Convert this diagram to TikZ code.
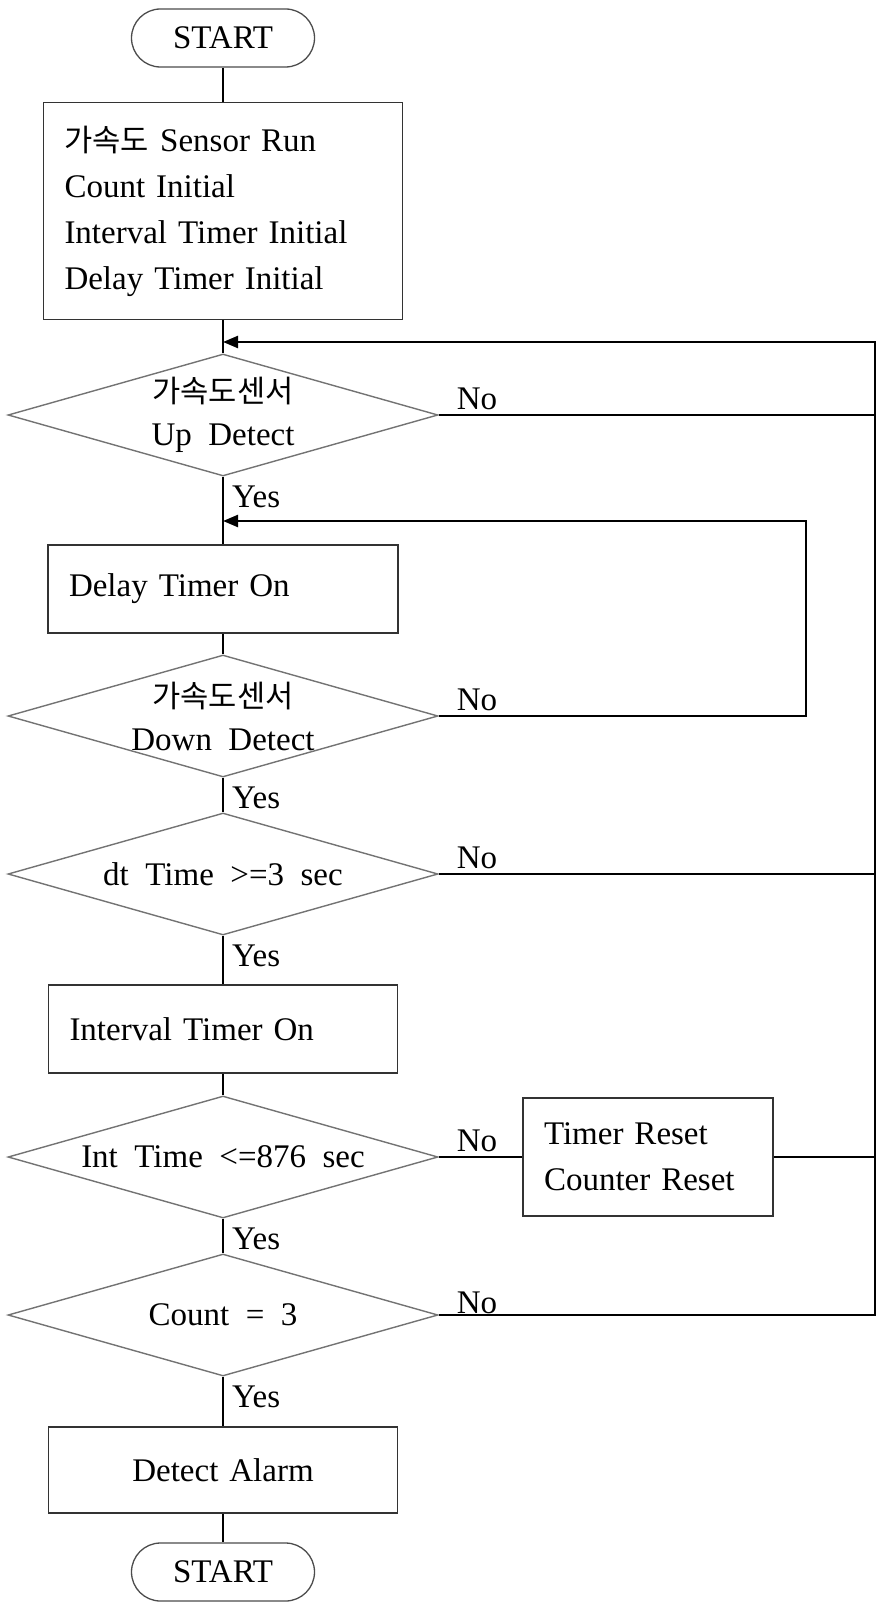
\documentclass[tikz,border=0pt]{standalone}
\usepackage{fontspec}
\setmainfont{Liberation Serif}[WordSpace=2.0]
\newfontfamily\kor{Noto Sans CJK KR}[Scale=0.93]
\usetikzlibrary{shapes.geometric,arrows.meta}

\begin{document}
\begin{tikzpicture}[
    x=1pt, y=-1pt,
    every node/.style={font=\fontsize{33}{46}\selectfont},
    term/.style={draw=black!70, line width=1.3pt, rectangle, rounded corners=29pt,
        minimum width=183pt, minimum height=58pt},
    proc/.style={draw=black!80, line width=1.5pt, rectangle, inner xsep=21pt, align=left},
    decision/.style={draw=black!55, line width=1.4pt, diamond, aspect=3.5, inner sep=0pt,
        minimum width=430pt, minimum height=122pt, align=center,
        font=\fontsize{33}{43}\selectfont},
    flow/.style={line width=2.4pt},
    back/.style={line width=2.4pt, -{Triangle[length=15pt,width=12pt]}},
    yes/.style={anchor=base west, inner sep=0pt, xshift=8pt, yshift=-31pt},
    no/.style={anchor=base west, inner sep=0pt, xshift=17pt, yshift=6pt}
]
\useasboundingbox (0,0) rectangle (878,1602);

% main column
\node[term] (start) at (223,38) {START};
\node[proc, text width=317pt, minimum height=217pt] (init) at (223,211)
    {{\kor 가속도} Sensor Run\\Count Initial\\Interval Timer Initial\\Delay Timer Initial};
\node[decision] (upchk) at (223,415) {{\kor 가속도센서}\\Up Detect};
\node[proc, text width=308pt, minimum height=88pt] (delay) at (223,589) {Delay Timer On};
\node[decision] (downchk) at (223,716) {{\kor 가속도센서}\\Down Detect};
\node[decision] (dtchk) at (223,874) {dt Time >=3 sec};
\node[proc, text width=307pt, minimum height=88pt] (interval) at (223,1029) {Interval Timer On};
\node[decision] (intchk) at (223,1157) {Int Time <=876 sec};
\node[decision] (cntchk) at (223,1315) {Count = 3};
\node[proc, text width=307pt, minimum height=86pt, align=center] (alarm) at (223,1470) {Detect Alarm};
\node[term] (stop) at (223,1572) {START};

% side box
\node[proc, text width=208pt, minimum height=118pt] (reset) at (648,1157) {Timer Reset\\Counter Reset};

% loop corners
\coordinate (loopin) at (223,342);
\coordinate (loopcorner) at (875,342);
\coordinate (delayin) at (223,521);
\coordinate (delaycorner) at (806,521);

% yes path
\draw[flow] (start) -- (init);
\draw[flow] (init) -- (upchk);
\draw[flow] (upchk) -- (delay) node[pos=0, yes] {Yes};
\draw[flow] (delay) -- (downchk);
\draw[flow] (downchk) -- (dtchk) node[pos=0, yes] {Yes};
\draw[flow] (dtchk) -- (interval) node[pos=0, yes] {Yes};
\draw[flow] (interval) -- (intchk);
\draw[flow] (intchk) -- (cntchk) node[pos=0, yes] {Yes};
\draw[flow] (cntchk) -- (alarm) node[pos=0, yes] {Yes};
\draw[flow] (alarm) -- (stop);

% no path
\draw[flow] (upchk.east) node[no] {No} -- (upchk.east -| loopcorner);
\draw[back] (downchk.east) node[no] {No} -| (delaycorner) -- (delayin);
\draw[flow] (dtchk.east) node[no] {No} -- (dtchk.east -| loopcorner);
\draw[flow] (intchk.east) node[no] {No} -- (reset);
\draw[flow] (reset) -- (reset -| loopcorner);
\draw[back] (cntchk.east) node[no, yshift=-4pt] {No} -| (loopcorner) -- (loopin);
\end{tikzpicture}
\end{document}
